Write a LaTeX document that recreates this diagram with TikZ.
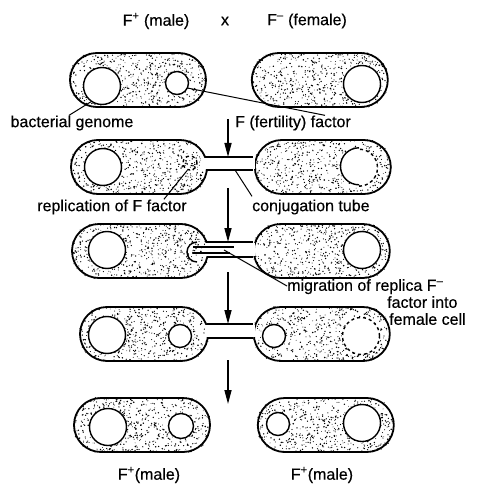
\documentclass[tikz,border=0pt]{standalone}
\usepackage{fontspec}
\setmainfont[FakeBold=0.4]{Liberation Sans}
\usetikzlibrary{arrows.meta, positioning, calc}

% random stipple inside a cell
\newcommand{\stipple}[1]{%
  \begin{scope}
    \clip[rounded corners=26pt] (#1.south west) rectangle (#1.north east);
    \foreach \k in {1,...,650}
      \fill ($(#1.center)+(rand*70,rand*28)$) circle[radius={0.4pt+0.45pt*rnd}];
  \end{scope}}

\begin{document}
\begin{tikzpicture}[x=1pt, y=-1pt,
    cell/.style={draw, line width=1.8pt, fill=white, rounded corners=27pt, minimum width=136pt, minimum height=54pt, inner sep=0pt},
    genome/.style={circle, draw, line width=1.4pt, fill=white, minimum size=37pt, inner sep=0pt},
    plasmid/.style={circle, draw, line width=1.4pt, fill=white, minimum size=23pt, inner sep=0pt},
    lbl/.style={font=\fontsize{16}{17}\selectfont, inner sep=0pt},
    lead/.style={line width=1pt},
    down/.style={line width=1.5pt, -{Triangle[length=14pt, width=7pt]}},
    tube/.style={line width=1.4pt}
]
\useasboundingbox (0,0) rectangle (483,486);
\pgfmathsetseed{11}

% Cells
\node[cell] (m1) at (138,80) {};
\node[cell, right=44pt of m1] (f1) {};
\node[cell] (m2) at (139,167) {};
\node[cell, right=46pt of m2] (f2) {};
\node[cell] (m3) at (140,251) {};
\node[cell, right=44pt of m3] (f3) {};
\node[cell, minimum width=128pt] (m4) at (144,334) {};
\node[cell, right=44pt of m4] (f4) {};
\node[cell] (m5) at (142,425) {};
\node[cell, right=46pt of m5] (f5) {};

\foreach \c in {m1,f1,m2,f2,m3,f3,m4,f4,m5,f5}
  \stipple{\c};

% Conjugation tubes
\fill[white] (204,158) rectangle (255,169);
\draw[tube] (206,157) -- (253,157) (206,170) -- (253,170);
\fill[white] (205,243) rectangle (255,256);
\draw[tube] (207,242) -- (253,242) (207,257) -- (253,257);
\fill[white] (205,325) rectangle (255,337);
\draw[tube] (207,324) -- (253,324) (207,338) -- (253,338);

% Genomes and F factors
\node[genome] (g1) at (102,86) {};
\node[plasmid] (p1) at (177,83) {};
\node[genome] (h1) at (362,84) {};

\node[genome] (g2) at (103,167) {};
\node[circle, draw, dashed, line width=1.4pt, minimum size=14pt] (rep2) at (190,163) {};
\node[genome, draw=none] (h2) at (359,167) {};
\draw[line width=1.4pt] (h2.north) arc[start angle=90, end angle=270, radius=18.5pt];
\draw[line width=1.4pt, dashed] (h2.south) arc[start angle=-90, end angle=90, radius=18.5pt];

\node[genome] (g3) at (107,250) {};
\node[genome] (h3) at (362,250) {};
\draw[tube] (197,242) arc[start angle=90, end angle=270, radius=10pt];
\draw[tube] (193,247) -- (234,247) (193,253) -- (230,253);

\node[genome] (g4) at (107,335) {};
\node[plasmid] (p4) at (180,336) {};
\node[plasmid] (q4) at (274,336) {};
\node[genome, dashed] (h4) at (361,336) {};

\node[genome] (g5) at (108,427) {};
\node[plasmid, minimum size=25pt] (p5) at (181,426) {};
\node[plasmid] (q5) at (278,424) {};
\node[genome] (h5) at (362,423) {};

% Labels
\node[lbl] (t1) at (156,21) {F\textsuperscript{+} (male)};
\node[lbl] (tx) at (225,21) {x};
\node[lbl] (t2) at (307,21) {F\textsuperscript{–} (female)};
\node[lbl] (bg) at (72,123) {bacterial genome};
\node[lbl, anchor=west] (ff) at (235,123) {F (fertility) factor};
\node[lbl] (rf) at (112,207) {replication of F factor};
\node[lbl, anchor=west] (ct) at (252,207) {conjugation tube};
\node[lbl, anchor=north west, align=left] (mig) at (287,279)
  {migration of replica F\textsuperscript{–}\\\hspace*{100pt}factor into\\\hspace*{102pt}female cell};
\node[lbl] (b1) at (149,475) {F\textsuperscript{+}(male)};
\node[lbl] (b2) at (322,475) {F\textsuperscript{+}(male)};

% Pointers
\draw[lead] (g1.235) -- ([xshift=-3pt]bg.north);
\draw[lead] (p1.-25) -- ([xshift=90pt]ff.north west);
\draw[lead] (rep2.250) -- ([xshift=-23pt]rf.north east);
\coordinate (tb2) at (235,170);
\draw[lead] (tb2) -- ([yshift=3pt]ct.north west);
\coordinate (rep3) at (224,250);
\draw[lead] (rep3) -- ([yshift=-7pt]mig.north west);

% Steps
\coordinate (s1) at (228,119);
\coordinate (e1) at (228,157);
\coordinate (s2) at (228,188);
\coordinate (e2) at (228,242);
\coordinate (s3) at (228,272);
\coordinate (e3) at (228,324);
\coordinate (s4) at (228,360);
\coordinate (e4) at (228,404);
\draw[down] (s1) -- (e1);
\draw[down] (s2) -- (e2);
\draw[down] (s3) -- (e3);
\draw[down] (s4) -- (e4);

\end{tikzpicture}
\end{document}
